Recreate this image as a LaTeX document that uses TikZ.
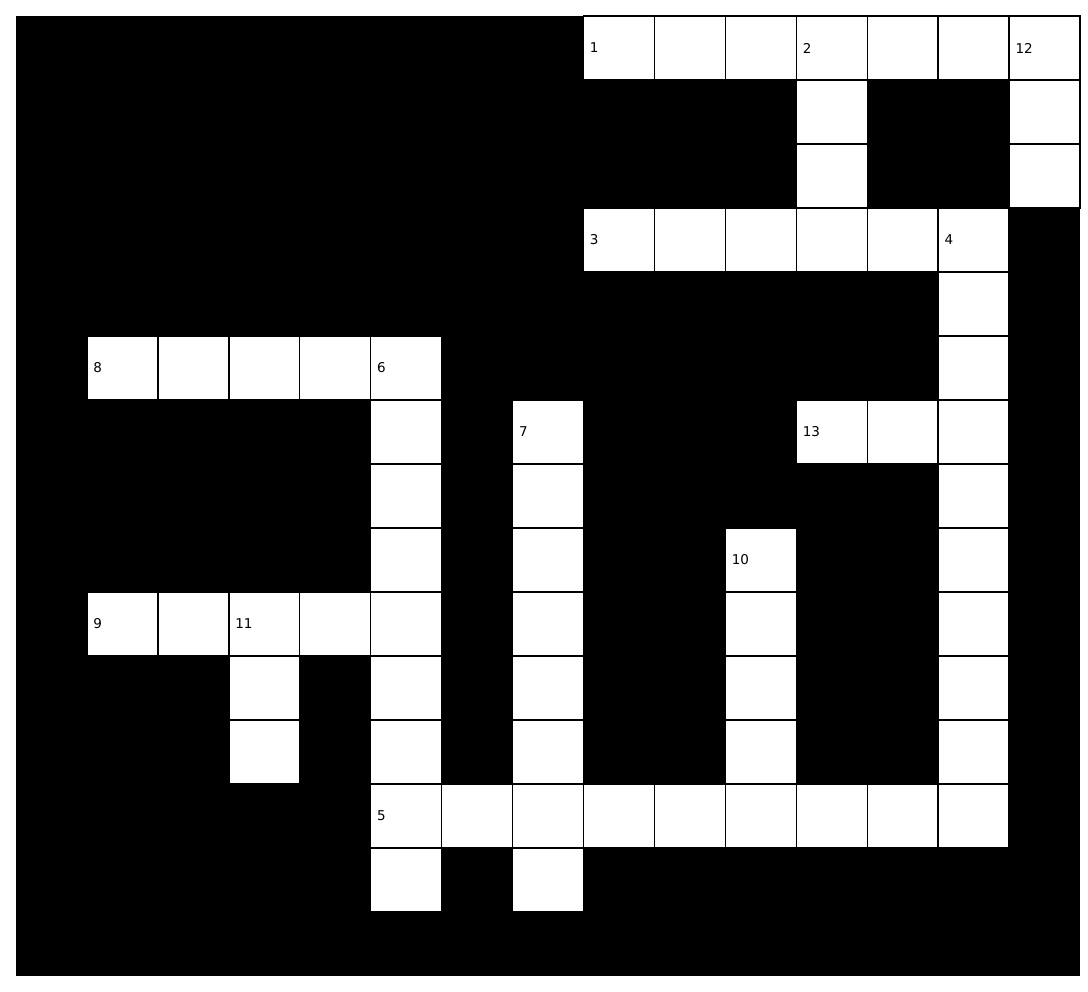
\documentclass[tikz,border=0pt]{standalone}
\usepackage{fontspec}
\setmainfont{DejaVu Sans}
\usepackage{tikz}
\usetikzlibrary{positioning}

\begin{document}
\begin{tikzpicture}[x=70.933pt, y=-64pt,
    whitecell/.style={draw=black, fill=white, line width=1.4pt,
      minimum width=70.933pt, minimum height=64pt, inner sep=0pt},
    cluenum/.style={anchor=west, inner sep=0pt,
      font=\fontsize{13.5}{16}\selectfont}]
  \useasboundingbox (-16pt,16pt) rectangle (1072pt,-976pt);
  % black board
  \fill[black] (0,0) rectangle (15,15);
  % white cells, row by row
  \foreach \r/\cs in {0/{8,9,10,11,12,13,14}, 1/{11,14}, 2/{11,14},
      3/{8,9,10,11,12,13}, 4/{13}, 5/{1,2,3,4,5,13}, 6/{5,7,11,12,13},
      7/{5,7,13}, 8/{5,7,10,13}, 9/{1,2,3,4,5,7,10,13}, 10/{3,5,7,10,13},
      11/{3,5,7,10,13}, 12/{5,6,7,8,9,10,11,12,13}, 13/{5,7}} {
    \foreach \c in \cs {
      \node[whitecell] (c\r-\c) at (\c+0.5,\r+0.5) {};
    }
  }
  % clue numbers
  \foreach \n/\r/\c in {1/0/8, 2/0/11, 12/0/14, 3/3/8, 4/3/13, 8/5/1,
      6/5/5, 7/6/7, 13/6/11, 10/8/10, 9/9/1, 11/9/3, 5/12/5} {
    \node[cluenum, right=7pt of c\r-\c.west] (n\n) {\n};
  }
\end{tikzpicture}
\end{document}
